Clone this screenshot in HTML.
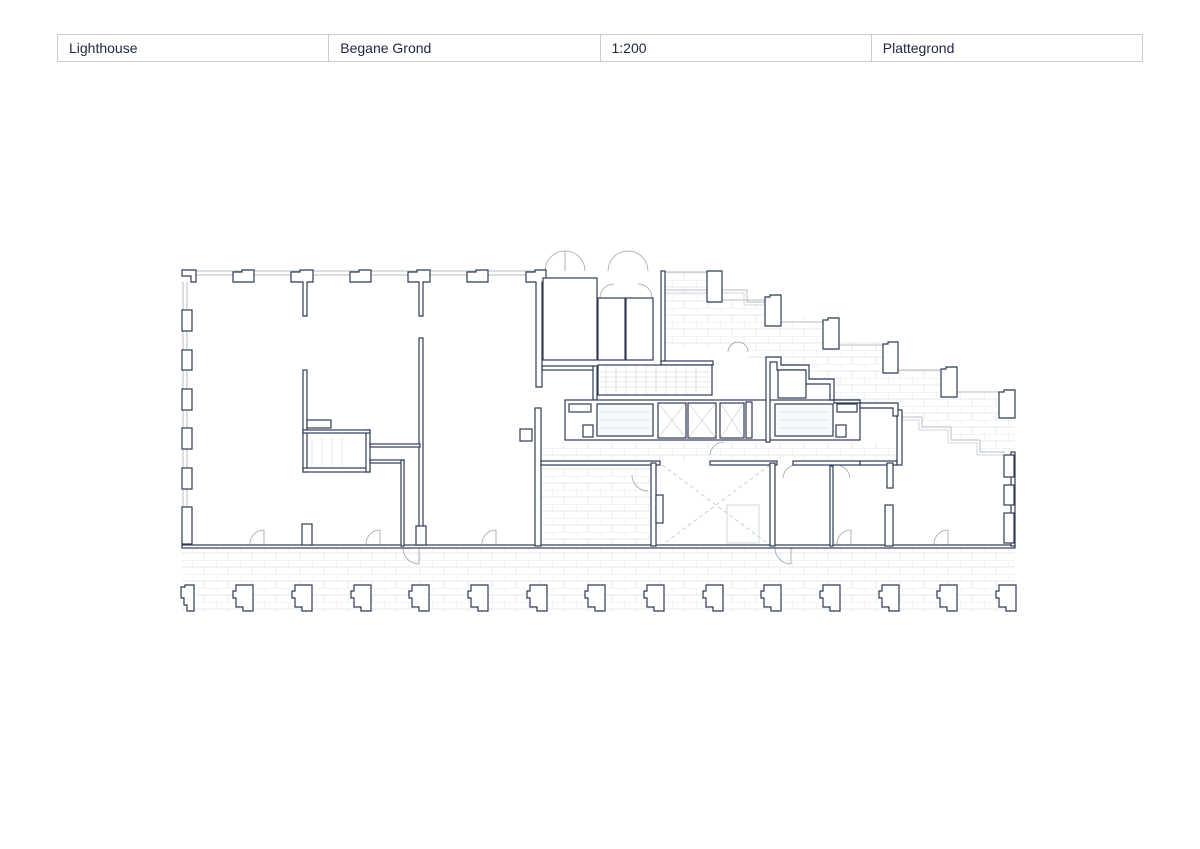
<!DOCTYPE html>
<html><head><meta charset="utf-8"><style>
html,body{margin:0;padding:0;background:#fff;width:1200px;height:849px;overflow:hidden}
.hdr{position:absolute;left:57px;top:34px;width:1086px;height:28px;border:1px solid #c9ccd2;box-sizing:border-box;display:flex}
.hdr div{flex:1;border-right:1px solid #c9ccd2;font-family:"Liberation Sans",sans-serif;font-size:14px;color:#1e2740;padding-left:11px;line-height:26px}
.hdr div:last-child{border-right:none}
svg{position:absolute;left:0;top:0}
</style></head><body>
<div class="hdr"><div>Lighthouse</div><div>Begane Grond</div><div>1:200</div><div>Plattegrond</div></div>
<svg width="1200" height="849" viewBox="0 0 1200 849">
<defs>
<pattern id="pv" width="24" height="14" patternUnits="userSpaceOnUse">
<path d="M0 0H24M0 7H24M0 0V7M12 7V14" stroke="#dde5e7" stroke-width="0.7" fill="none"/>
</pattern>
</defs>
<g fill="url(#pv)">
<rect x="182" y="548" width="833" height="64"/>
<rect x="542" y="465" width="108" height="80"/>
<rect x="542" y="442" width="355" height="19"/>
<polygon points="665,272 707,272 707,302 765,302 765,318 823,318 823,342 883,342 883,367 941,367 941,390 1015,390 1015,452 980,452 980,440 951,440 951,427 922,427 922,417 898,417 898,403 834,404 834,380 809,380 809,366 781,366 781,358 747,358 747,347 665,347"/>
</g>
<g stroke="#b7bec6" stroke-width="1" fill="none">
<path d="M190 271H545M190 275H545M183 282V546M187 282V546"/>
<path d="M665 272H707M722 300H765M781 322H823M839 345H883M898 370H941M957 392H1015"/>
<path d="M663 290H747V302H768M898 417H922V427H951V440H980V452H1005"/>
<path d="M663 293H744V305H768M898 420H919V430H948V443H977V455H1005" stroke="#d0d5da"/>
<path d="M662 465L770 545M770 465L662 545" stroke-dasharray="4 3" stroke="#c7d0d6"/>
<rect x="727" y="505" width="32" height="38" stroke="#cfd8da"/>
</g>
<g stroke="#9aa2ad" stroke-width="0.8" fill="none">
<path d="M545 271A20 20 0 0 1 565 251M585 271A20 20 0 0 0 565 251M565 251V271"/>
<path d="M608 271A20 20 0 0 1 628 251M648 271A20 20 0 0 0 628 251"/>
<path d="M600 298A14 14 0 0 1 614 284M652 298A14 14 0 0 0 638 284"/>
<path d="M250 544A14 14 0 0 1 264 530V544M366 544A14 14 0 0 1 380 530V544M482 544A14 14 0 0 1 496 530V544M837 544A14 14 0 0 1 851 530V544M934 544A14 14 0 0 1 948 530V544"/>
<path d="M403 548A16 16 0 0 0 419 564V548M775 548A16 16 0 0 0 791 564V548"/>
<path d="M632 475A16 16 0 0 0 648 491M783 478A14 14 0 0 1 795 465M850 478A14 14 0 0 0 836 465M710 455A14 14 0 0 1 724 442"/>
<path d="M728 352A10 10 0 0 1 738 342M748 352A10 10 0 0 0 738 342"/>
</g>
<g fill="#fff" stroke="#2f3b55" stroke-width="1.2">
<rect x="182" y="545" width="833" height="3"/>
<path d="M182 270H196V282H191V276H182Z"/>
<path d="M233 272H242V270H254V282H233Z"/>
<path d="M291 272H300V270H313V282H307V316H303V282H291Z"/>
<path d="M350 272H359V270H371V282H350Z"/>
<path d="M408 272H417V270H430V282H423V316H419V282H408Z"/>
<path d="M467 272H476V270H488V282H467Z"/>
<path d="M526 272H535V270H546V282H542V387H536V282H526Z"/>
<rect x="182" y="310" width="10" height="21"/>
<rect x="182" y="350" width="10" height="20"/>
<rect x="182" y="389" width="10" height="21"/>
<rect x="182" y="428" width="10" height="21"/>
<rect x="182" y="468" width="10" height="21"/>
<rect x="182" y="507" width="10" height="37"/>
<rect x="419" y="338" width="4" height="207"/>
<rect x="303" y="370" width="4" height="102"/>
<rect x="303" y="468" width="67" height="4"/>
<rect x="366" y="430" width="4" height="42"/>
<rect x="303" y="430" width="67" height="3"/>
<rect x="307" y="420" width="24" height="8"/>
<rect x="370" y="444" width="50" height="3"/>
<rect x="370" y="460" width="34" height="3"/>
<rect x="401" y="460" width="3" height="86"/>
<rect x="302" y="524" width="10" height="21"/>
<rect x="416" y="526" width="10" height="19"/>
<rect x="542" y="366" width="52" height="4"/>
<rect x="593" y="366" width="4" height="34"/>
<rect x="543" y="278" width="54" height="82"/>
<rect x="598" y="298" width="27" height="62"/>
<rect x="626" y="298" width="27" height="62"/>
<rect x="661" y="271" width="4" height="92"/>
<rect x="661" y="361" width="52" height="4"/>
<rect x="598" y="365" width="114" height="30"/>
<rect x="565" y="400" width="295" height="40"/>
<rect x="569" y="404" width="22" height="8"/>
<rect x="583" y="425" width="10" height="12"/>
<rect x="597" y="404" width="56" height="32" fill="#f7fafa"/>
<rect x="658" y="403" width="28" height="35"/>
<rect x="688" y="403" width="28" height="35"/>
<rect x="720" y="403" width="24" height="35"/>
<rect x="746" y="402" width="6" height="36"/>
<rect x="775" y="404" width="58" height="32" fill="#f7fafa"/>
<rect x="837" y="404" width="20" height="8"/>
<rect x="836" y="425" width="10" height="12"/>
<rect x="520" y="429" width="12" height="12"/>
<rect x="535" y="408" width="6" height="138"/>
<rect x="541" y="461" width="119" height="4"/>
<rect x="710" y="461" width="67" height="4"/>
<rect x="793" y="461" width="67" height="4"/>
<rect x="860" y="461" width="37" height="4"/>
<rect x="651" y="463" width="5" height="83"/>
<rect x="656" y="495" width="7" height="28"/>
<rect x="770" y="463" width="5" height="83"/>
<rect x="830" y="466" width="3" height="80"/>
<rect x="887" y="463" width="6" height="25"/>
<rect x="885" y="505" width="8" height="41"/>
<rect x="897" y="410" width="5" height="55"/>
<path d="M766 357H781V365H809V379H834V403H898V416H893V408H860V400H830V384H805V370H777V362H770V442H766Z"/>
<rect x="778" y="370" width="28" height="28"/>
<path d="M707 271H722V302H707Z"/>
<path d="M765 297H770V295H781V326H765Z"/>
<path d="M823 320H828V318H839V349H823Z"/>
<path d="M883 344H888V342H898V373H883Z"/>
<path d="M941 369H946V367H957V397H941Z"/>
<path d="M999 392H1004V390H1015V418H999Z"/>
<rect x="1011" y="452" width="4" height="94"/>
<rect x="1004" y="455" width="10" height="22"/>
<rect x="1004" y="485" width="10" height="20"/>
<rect x="1004" y="513" width="10" height="30"/>
</g>
<g fill="#fff" stroke="#2f3b55" stroke-width="1.2">
<polygon points="185,585 194,585 194,611 187,611 187,605 184,605 184,598 181,598 181,587 185,587"/>
<polygon points="236,585 253,585 253,611 243,611 243,607 236,607 236,598 233,598 233,591 236,591"/>
<polygon points="295,585 312,585 312,611 302,611 302,607 295,607 295,598 292,598 292,591 295,591"/>
<polygon points="354,585 371,585 371,611 361,611 361,607 354,607 354,598 351,598 351,591 354,591"/>
<polygon points="412,585 429,585 429,611 419,611 419,607 412,607 412,598 409,598 409,591 412,591"/>
<polygon points="471,585 488,585 488,611 478,611 478,607 471,607 471,598 468,598 468,591 471,591"/>
<polygon points="530,585 547,585 547,611 537,611 537,607 530,607 530,598 527,598 527,591 530,591"/>
<polygon points="588,585 605,585 605,611 595,611 595,607 588,607 588,598 585,598 585,591 588,591"/>
<polygon points="647,585 664,585 664,611 654,611 654,607 647,607 647,598 644,598 644,591 647,591"/>
<polygon points="706,585 723,585 723,611 713,611 713,607 706,607 706,598 703,598 703,591 706,591"/>
<polygon points="764,585 781,585 781,611 771,611 771,607 764,607 764,598 761,598 761,591 764,591"/>
<polygon points="823,585 840,585 840,611 830,611 830,607 823,607 823,598 820,598 820,591 823,591"/>
<polygon points="882,585 899,585 899,611 889,611 889,607 882,607 882,598 879,598 879,591 882,591"/>
<polygon points="940,585 957,585 957,611 947,611 947,607 940,607 940,598 937,598 937,591 940,591"/>
<polygon points="999,585 1016,585 1016,611 1006,611 1006,607 999,607 999,598 996,598 996,591 999,591"/>
</g>
<g stroke="#ccd4d7" stroke-width="0.6">
<path d="M600 372H710M600 377H710M600 382H710M600 387H710M606 366V394M616 366V394M626 366V394M636 366V394M646 366V394M656 366V394M666 366V394M676 366V394M686 366V394M696 366V394"/>
<path d="M600 412H650M600 420H650M600 428H650M778 412H830M778 420H830M778 428H830M312 438V466M322 438V466M332 438V466M342 438V466"/>
<path d="M659 404L685 437M685 404L659 437M689 404L715 437M715 404L689 437M721 404L743 437M743 404L721 437" stroke="#b9c9c6"/>
</g>
</svg>
</body></html>
